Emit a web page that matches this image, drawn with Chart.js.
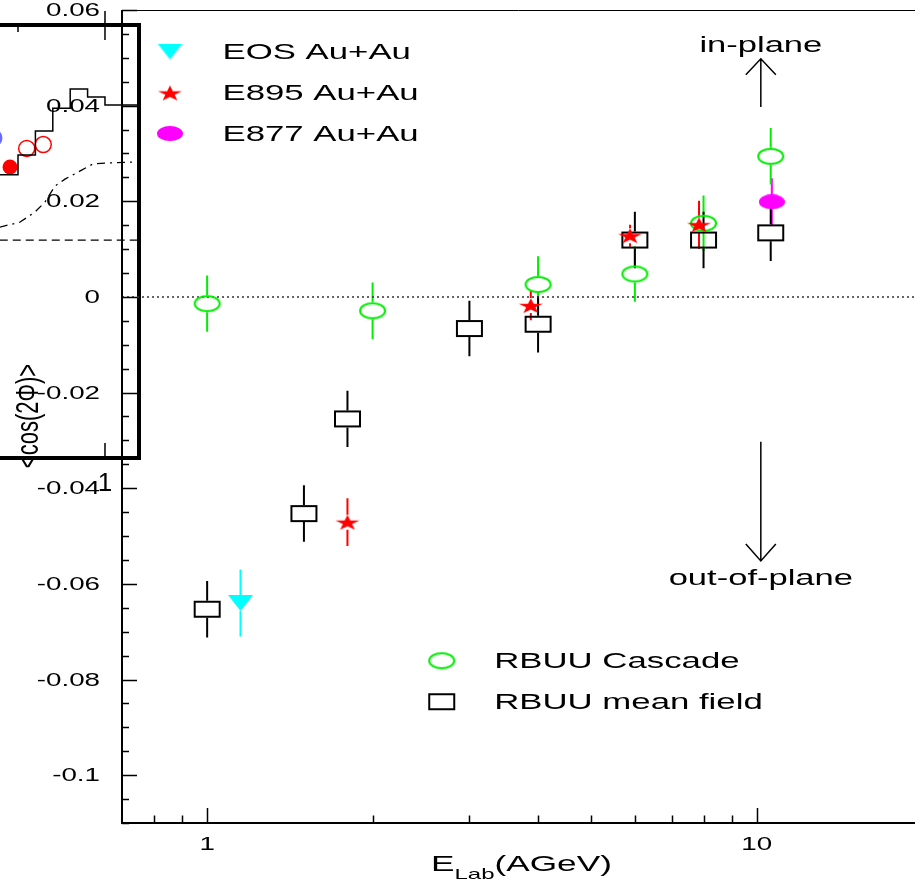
<!DOCTYPE html>
<html>
<head>
<meta charset="utf-8">
<script src="https://cdn.jsdelivr.net/npm/chart.js@4.4.0/dist/chart.umd.min.js"></script>
<style>
  html, body { margin: 0; padding: 0; background: #fff; }
  #wrap { position: relative; width: 915px; height: 882px; overflow: hidden; }
  #insetChart { position: absolute; left: 0; top: 0; }
  #flowChart { position: absolute; left: 0; top: 0; }
</style>
</head>
<body>
<div id="wrap">
  <canvas id="insetChart" width="142" height="500"></canvas>
  <canvas id="flowChart" width="915" height="882"></canvas>
</div>
<script>
// ---- main plot data: <cos(2phi)> vs beam energy (AGeV)
const cascadeEnergy = [1.0, 2.0, 4.0, 6.0, 8.0, 10.6]
const cascadeFlow = [-0.0014, -0.0029, 0.0026, 0.0048, 0.0154, 0.0294]
const cascadeError = [0.0059, 0.0059, 0.0059, 0.0058, 0.0058, 0.0059]

const meanFieldEnergy = [1.0, 1.5, 1.8, 3.0, 4.0, 6.0, 8.0, 10.6]
const meanFieldFlow = [-0.0653, -0.0453, -0.0255, -0.0066, -0.0057, 0.0119, 0.0119, 0.0134]
const meanFieldError = [0.0059, 0.0059, 0.0059, 0.0058, 0.0059, 0.0059, 0.0059, 0.0059]

const eosEnergy = [1.15]
const eosFlow = [-0.064]
const eosError = [0.007]

const e895Energy = [1.8, 3.88, 5.88, 7.85]
const e895Flow = [-0.0471, -0.0018, 0.0128, 0.0151]
const e895Error = [0.005, 0.0031, 0.0023, 0.005]

const e877Energy = [10.65]
const e877Flow = [0.0199]
const e877Error = [0.0049]

const yMajorTicks = [-0.1, -0.08, -0.06, -0.04, -0.02, 0, 0.02, 0.04, 0.06]
const yTickLabels = ['-0.1', '-0.08', '-0.06', '-0.04', '-0.02', '0', '0.02', '0.04', '0.06']
const yMinorStep = 0.005
const xMajorTicks = [1, 10]
const xTickLabels = ['1', '10']
const xMinorTicks = [0.8, 0.9, 2, 3, 4, 5, 6, 7, 8, 9]

// ---- piece of the overlapping inset figure
const insetHistX = [0.758, 0.80, 0.84, 0.88, 0.92, 0.96, 1.00, 1.08]
const insetHistY = [0.0654, 0.0700, 0.0755, 0.0808, 0.0852, 0.0834, 0.0815, 0.0815]
const insetCurveX = [0.758, 0.805, 0.839, 0.862, 0.885, 0.908, 0.943, 0.972, 1.0, 1.08]
const insetCurveY = [0.0533, 0.0545, 0.0568, 0.0591, 0.0628, 0.0644, 0.0663, 0.0679, 0.0681, 0.0684]
const insetFlatX = [0.758, 1.08]
const insetFlatY = [0.0503, 0.0503]
const insetFilledX = [0.7816]
const insetFilledY = [0.0672]
const insetOpenX = [0.820, 0.858]
const insetOpenY = [0.0715, 0.0724]
const insetBlueX = [0.7425]
const insetBlueY = [0.0739]

const FONT = '"Liberation Sans", Arial, Helvetica, sans-serif'

function pts(xs, ys) {
  return xs.map((x, i) => ({ x: x, y: ys[i] }))
}

// text drawn a bit wider than the font, like the original picture
function wideText(ctx, text, x, y, size, sx, align = 'left', baseline = 'middle') {
  ctx.save()
  ctx.translate(x, y)
  ctx.scale(sx, 1)
  ctx.font = `${size}px ${FONT}`
  ctx.textAlign = align
  ctx.textBaseline = baseline
  ctx.fillStyle = '#000'
  ctx.fillText(text, 0, 0)
  const w = ctx.measureText(text).width * sx
  ctx.restore()
  return w
}

// marker images (the picture is stretched sideways, so circles are ellipses)
function makeMarker(w, h, draw) {
  const c = document.createElement('canvas')
  c.width = w
  c.height = h
  draw(c.getContext('2d'), w, h)
  return c
}

const markers = {
  cascade: makeMarker(29, 19, (g, w, h) => {
    g.strokeStyle = '#00ee00'
    g.lineWidth = 2
    g.beginPath()
    g.ellipse(w / 2, h / 2, 12.5, 7.5, 0, 0, Math.PI * 2)
    g.stroke()
  }),
  meanField: makeMarker(29, 19, (g) => {
    g.strokeStyle = '#000'
    g.lineWidth = 2
    g.strokeRect(2, 2, 25, 15)
  }),
  eos: makeMarker(25, 16, (g, w, h) => {
    g.fillStyle = '#00ffff'
    g.beginPath()
    g.moveTo(0, 0)
    g.lineTo(w, 0)
    g.lineTo(w / 2, h)
    g.closePath()
    g.fill()
  }),
  e895: makeMarker(26, 17, (g) => {
    g.fillStyle = '#ff0000'
    g.beginPath()
    for (let k = 0; k < 10; k++) {
      const r = k % 2 === 0 ? 8.3 : 3.2
      const a = -Math.PI / 2 + k * Math.PI / 5
      const px = 13 + Math.cos(a) * r * 1.52
      const py = 9.3 + Math.sin(a) * r
      if (k === 0) g.moveTo(px, py)
      else g.lineTo(px, py)
    }
    g.closePath()
    g.fill()
  }),
  e877: makeMarker(26, 15, (g, w, h) => {
    g.fillStyle = '#ff00ff'
    g.beginPath()
    g.ellipse(w / 2, h / 2, 13, 7.5, 0, 0, Math.PI * 2)
    g.fill()
  }),
}

// error bars, kept off the marker itself
const errorBars = {
  id: 'errorBars',
  beforeDatasetsDraw(chart) {
    const { ctx } = chart
    const x = chart.scales.x
    const y = chart.scales.y
    chart.data.datasets.forEach((ds) => {
      if (!ds.errors) return
      ctx.save()
      ctx.strokeStyle = ds.barColor
      ctx.lineWidth = 2
      ds.data.forEach((p, j) => {
        const px = x.getPixelForValue(p.x)
        const py = y.getPixelForValue(p.y)
        const top = y.getPixelForValue(p.y + ds.errors[j])
        const bot = y.getPixelForValue(p.y - ds.errors[j])
        const h = ds.markerHalf
        ctx.beginPath()
        if (top < py - h) { ctx.moveTo(px, top); ctx.lineTo(px, py - h) }
        if (bot > py + h) { ctx.moveTo(px, py + h); ctx.lineTo(px, bot) }
        ctx.stroke()
      })
      ctx.restore()
    })
  },
}

// frame, ticks inside, labels, titles, arrows, legends
const frame = {
  id: 'frame',
  beforeDatasetsDraw(chart) {
    const { ctx, chartArea: a } = chart
    const y0 = chart.scales.y.getPixelForValue(0)
    ctx.save()
    ctx.strokeStyle = '#333'
    ctx.lineWidth = 1.5
    ctx.setLineDash([2, 3])
    ctx.beginPath()
    ctx.moveTo(a.left, y0)
    ctx.lineTo(a.right, y0)
    ctx.stroke()
    ctx.restore()
  },
  afterDraw(chart) {
    const { ctx, chartArea: a } = chart
    const x = chart.scales.x
    const y = chart.scales.y
    ctx.save()
    ctx.strokeStyle = '#000'

    // top frame line
    ctx.lineWidth = 1
    ctx.beginPath()
    ctx.moveTo(a.left, a.top + 0.5)
    ctx.lineTo(a.right, a.top + 0.5)
    ctx.stroke()

    // axes
    ctx.lineWidth = 2
    ctx.beginPath()
    ctx.moveTo(a.left, a.top)
    ctx.lineTo(a.left, a.bottom)
    ctx.lineTo(a.right, a.bottom)
    ctx.stroke()

    // y ticks
    ctx.lineWidth = 1.5
    ctx.beginPath()
    for (let v = y.min; v <= y.max + 1e-9; v += yMinorStep) {
      const py = Math.round(y.getPixelForValue(v)) + 0.5
      const major = yMajorTicks.some(t => Math.abs(t - v) < 1e-6)
      ctx.moveTo(a.left, py)
      ctx.lineTo(a.left + (major ? 15 : 7), py)
    }
    // x ticks
    xMajorTicks.concat(xMinorTicks).forEach((v) => {
      const px = Math.round(x.getPixelForValue(v)) + 0.5
      const major = xMajorTicks.includes(v)
      ctx.moveTo(px, a.bottom)
      ctx.lineTo(px, a.bottom - (major ? 15 : 7.5))
    })
    ctx.stroke()

    yMajorTicks.forEach((v, i) => {
      wideText(ctx, yTickLabels[i], a.left - 22, y.getPixelForValue(v) + 1, 18.5, 1.5, 'right')
    })
    xMajorTicks.forEach((v, i) => {
      wideText(ctx, xTickLabels[i], x.getPixelForValue(v), a.bottom + 22, 18.5, 1.5, 'center')
    })

    // x title with subscript
    let tx = 431
    tx += wideText(ctx, 'E', tx, 871, 22, 1.6, 'left', 'alphabetic')
    tx += wideText(ctx, 'Lab', tx, 879, 15, 1.6, 'left', 'alphabetic')
    wideText(ctx, '(AGeV)', tx, 871, 22, 1.6, 'left', 'alphabetic')

    // y title (rotated, glyphs widened sideways like the rest)
    ctx.save()
    ctx.translate(29, 416)
    ctx.scale(1.45, 1)
    ctx.rotate(-Math.PI / 2)
    ctx.font = `22px ${FONT}`
    ctx.fillStyle = '#000'
    ctx.textAlign = 'center'
    ctx.textBaseline = 'middle'
    ctx.fillText('<cos(2\u03A6)>', 0, 0)
    ctx.restore()

    // in-plane / out-of-plane arrows
    const ax = x.getPixelForValue(10.17)
    const upFrom = y.getPixelForValue(0.0397)
    const upTo = y.getPixelForValue(0.0498)
    const dnFrom = y.getPixelForValue(-0.0303)
    const dnTo = y.getPixelForValue(-0.0552)
    ctx.lineWidth = 1.5
    ctx.beginPath()
    ctx.moveTo(ax, upFrom); ctx.lineTo(ax, upTo)
    ctx.moveTo(ax - 15, upTo + 16); ctx.lineTo(ax, upTo); ctx.lineTo(ax + 15, upTo + 16)
    ctx.moveTo(ax, dnFrom); ctx.lineTo(ax, dnTo)
    ctx.moveTo(ax - 15, dnTo - 17); ctx.lineTo(ax, dnTo); ctx.lineTo(ax + 15, dnTo - 17)
    ctx.stroke()
    wideText(ctx, 'in-plane', ax, y.getPixelForValue(0.0524), 22, 1.57, 'center')
    wideText(ctx, 'out-of-plane', ax, y.getPixelForValue(-0.059), 22, 1.57, 'center')

    // legends
    const legendPos = {
      'EOS Au+Au': [170, 51.5],
      'E895 Au+Au': [170, 93],
      'E877 Au+Au': [170, 133.5],
      'RBUU Cascade': [441.7, 660.7],
      'RBUU mean field': [441.7, 701.7],
    }
    chart.data.datasets.forEach((ds) => {
      const pos = legendPos[ds.label]
      if (!pos) return
      const m = ds.pointStyle
      ctx.drawImage(m, pos[0] - m.width / 2, pos[1] - m.height / 2)
      wideText(ctx, ds.label, pos[0] + 52.5, pos[1] + 1, 22, 1.58, 'left')
    })
    ctx.restore()
  },
}

new Chart(document.getElementById('flowChart'), {
  type: 'scatter',
  data: {
    datasets: [
      { label: 'E877 Au+Au', data: pts(e877Energy, e877Flow), errors: e877Error, barColor: '#ff00ff', markerHalf: 7.5, pointStyle: markers.e877 },
      { label: 'E895 Au+Au', data: pts(e895Energy, e895Flow), errors: e895Error, barColor: '#ff0000', markerHalf: 7.5, pointStyle: markers.e895 },
      { label: 'EOS Au+Au', data: pts(eosEnergy, eosFlow), errors: eosError, barColor: '#00ffff', markerHalf: 8, pointStyle: markers.eos },
      { label: 'RBUU Cascade', data: pts(cascadeEnergy, cascadeFlow), errors: cascadeError, barColor: '#00ee00', markerHalf: 8.5, pointStyle: markers.cascade },
      { label: 'RBUU mean field', data: pts(meanFieldEnergy, meanFieldFlow), errors: meanFieldError, barColor: '#000', markerHalf: 8.5, pointStyle: markers.meanField },
    ],
  },
  options: {
    responsive: false,
    animation: false,
    events: [],
    elements: { point: { radius: 5 } },
    layout: { autoPadding: false, padding: { left: 122, top: 10, right: 0, bottom: 59 } },
    scales: {
      x: { type: 'logarithmic', min: 0.7, max: 19.4, display: false },
      y: { type: 'linear', min: -0.11, max: 0.06, display: false },
    },
    plugins: { legend: { display: false }, tooltip: { enabled: false } },
  },
  plugins: [errorBars, frame],
})

// inset frame: thick box, a few ticks and its "1" label
const insetFrame = {
  id: 'insetFrame',
  afterDraw(chart) {
    const { ctx, chartArea: a } = chart
    const x = chart.scales.x
    ctx.save()
    ctx.strokeStyle = '#000'
    ctx.lineWidth = 4
    ctx.beginPath()
    ctx.moveTo(a.left, a.top)
    ctx.lineTo(a.right, a.top)
    ctx.lineTo(a.right, a.bottom)
    ctx.lineTo(a.left, a.bottom)
    ctx.stroke()
    ctx.lineWidth = 1.5
    ctx.beginPath()
    const p1 = x.getPixelForValue(1.0)
    const p08 = x.getPixelForValue(0.8)
    ctx.moveTo(p1, a.top - 14); ctx.lineTo(p1, a.top + 15)
    ctx.moveTo(p08, a.top); ctx.lineTo(p08, a.top + 7)
    ctx.moveTo(p1, a.bottom); ctx.lineTo(p1, a.bottom - 15)
    ctx.stroke()
    ctx.font = `26px ${FONT}`
    ctx.fillStyle = '#000'
    ctx.textAlign = 'center'
    ctx.textBaseline = 'middle'
    ctx.fillText('1', p1, a.bottom + 26)
    ctx.restore()
  },
}

new Chart(document.getElementById('insetChart'), {
  type: 'scatter',
  data: {
    datasets: [
      { data: pts(insetHistX, insetHistY), showLine: true, stepped: 'before', borderColor: '#000', borderWidth: 1.5, pointRadius: 0 },
      { data: pts(insetCurveX, insetCurveY), showLine: true, borderColor: '#000', borderWidth: 1.3, borderDash: [8, 5, 2, 5], pointRadius: 0 },
      { data: pts(insetFlatX, insetFlatY), showLine: true, borderColor: '#000', borderWidth: 1.3, borderDash: [8, 5], pointRadius: 0 },
      { data: pts(insetFilledX, insetFilledY), pointRadius: 7.5, backgroundColor: '#ff0000', borderColor: '#ff0000', borderWidth: 0 },
      { data: pts(insetOpenX, insetOpenY), pointRadius: 8, backgroundColor: 'rgba(0,0,0,0)', borderColor: '#ff0000', borderWidth: 1.5 },
      { data: pts(insetBlueX, insetBlueY), pointRadius: 9, backgroundColor: '#6a6aff', borderColor: '#6a6aff', clip: false },
    ],
  },
  options: {
    responsive: false,
    animation: false,
    events: [],
    layout: { autoPadding: false, padding: { left: 0, top: 25, right: 3, bottom: 42 } },
    scales: {
      x: { type: 'linear', min: 0.7586, max: 1.0782, display: false },
      y: { type: 'linear', min: 0, max: 0.1, display: false },
    },
    plugins: { legend: { display: false }, tooltip: { enabled: false } },
  },
  plugins: [insetFrame],
})
</script>
</body>
</html>
